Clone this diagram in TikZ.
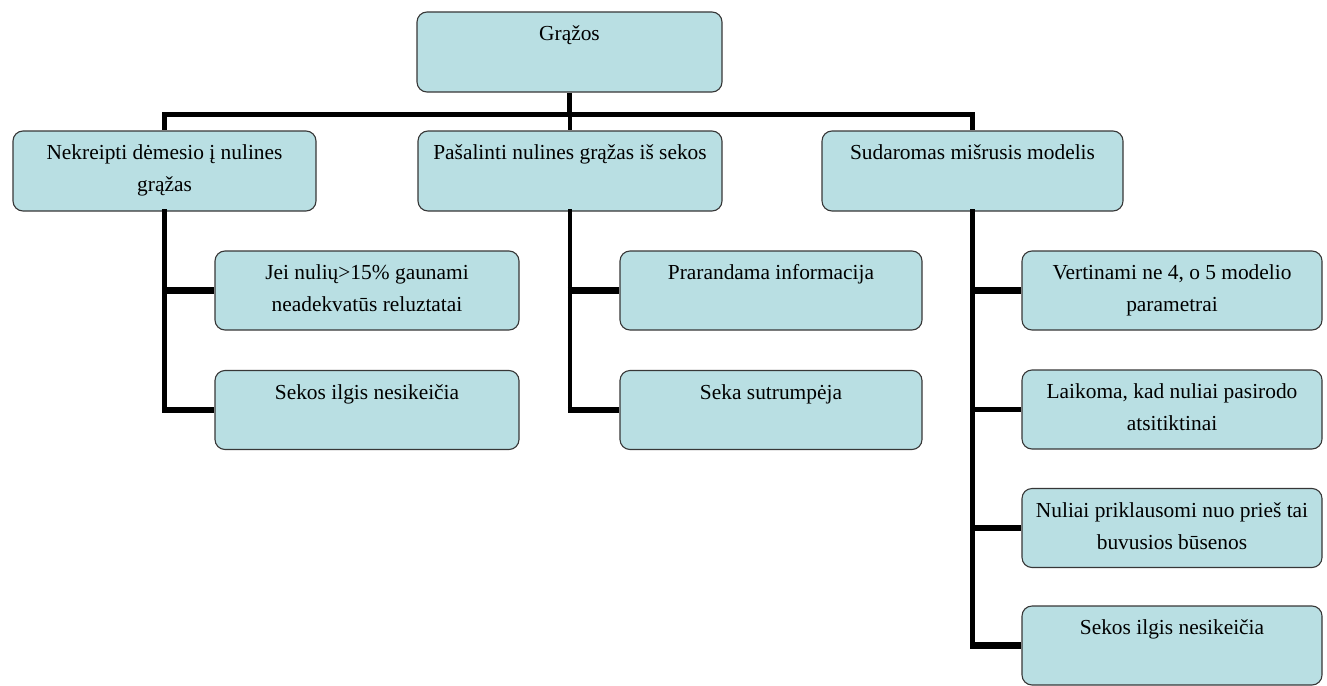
\documentclass[tikz,border=0pt]{standalone}
\usepackage{fontspec}
\setmainfont{Liberation Serif}
\definecolor{boxfill}{RGB}{185,223,227}
\definecolor{boxline}{RGB}{55,55,55}
\tikzset{
  box/.style={draw=boxline, line width=1.1pt, fill=boxfill, rounded corners=10pt, inner sep=0pt, minimum height=79pt},
  lab/.style={anchor=north, inner sep=0pt, align=center, font=\fontsize{21.4}{32}\selectfont},
  trunk/.style={line width=4.5pt, line cap=rect},
  stub/.style={line width=6.5pt},
}
\newcommand{\st}{\rule{0pt}{20pt}}
\begin{document}
\begin{tikzpicture}[x=1pt,y=-1pt]
\useasboundingbox (0,0) rectangle (1327,685);
% boxes
\node[box, minimum width=305pt, minimum height=80pt] (root) at (569.5,52) {};
\node[box, minimum width=303pt, minimum height=80pt] (a) at (164.5,171) {};
\node[box, minimum width=304pt, minimum height=80pt] (b) at (570,171) {};
\node[box, minimum width=301pt, minimum height=80pt] (c) at (972.5,171) {};
\node[box, minimum width=304pt] (a1) at (367,290.5) {};
\node[box, minimum width=304pt] (a2) at (367,410) {};
\node[box, minimum width=302pt] (b1) at (771,290.5) {};
\node[box, minimum width=302pt] (b2) at (771,410) {};
\node[box, minimum width=300pt] (c1) at (1172,290.5) {};
\node[box, minimum width=300pt] (c2) at (1172,409.5) {};
\node[box, minimum width=300pt] (c3) at (1172,528) {};
\node[box, minimum width=300pt] (c4) at (1172,645.5) {};
% labels
\node[lab] (troot) at ([yshift=-9pt]root.north) {\st Grąžos};
\node[lab] (ta) at ([yshift=-9pt]a.north) {\st Nekreipti dėmesio į nulines\\grąžas};
\node[lab] (tb) at ([yshift=-9pt]b.north) {\st Pašalinti nulines grąžas iš sekos};
\node[lab] (tc) at ([yshift=-9pt]c.north) {\st Sudaromas mišrusis modelis};
\node[lab] (ta1) at ([yshift=-9pt]a1.north) {\st Jei nulių>15\% gaunami\\neadekvatūs reluztatai};
\node[lab] (ta2) at ([yshift=-9pt]a2.north) {\st Sekos ilgis nesikeičia};
\node[lab] (tb1) at ([yshift=-9pt]b1.north) {\st Prarandama informacija};
\node[lab] (tb2) at ([yshift=-9pt]b2.north) {\st Seka sutrumpėja};
\node[lab] (tc1) at ([yshift=-9pt]c1.north) {\st Vertinami ne 4, o 5 modelio\\parametrai};
\node[lab] (tc2) at ([yshift=-9pt]c2.north) {\st Laikoma, kad nuliai pasirodo\\atsitiktinai};
\node[lab] (tc3) at ([yshift=-9pt]c3.north) {\st Nuliai priklausomi nuo prieš tai\\buvusios būsenos};
\node[lab] (tc4) at ([yshift=-9pt]c4.north) {\st Sekos ilgis nesikeičia};
% top connectors
\coordinate (bar) at (0,114);
\draw[line width=4.5pt] (root.south) -- (root.south |- bar);
\draw[line width=5pt, line cap=rect] (a.north |- bar) -- (c.north |- bar);
\draw[line width=4.5pt] (a.north |- bar) -- (a.north);
\draw[line width=4.5pt] (b.north |- bar) -- (b.north);
\draw[line width=4.5pt] (c.north |- bar) -- (c.north);
% branch trunks
\draw[trunk] (a.south) -- (a.south |- a2.west);
\draw[trunk] (b.south) -- (b.south |- b2.west);
\draw[trunk] (c.south) -- (c.south |- c4.west);
% stubs
\foreach \p/\k in {a/a1,a/a2,b/b1,b/b2,c/c1,c/c3,c/c4}{
  \draw[stub] ([xshift=-2.25pt]\p.south |- \k.west) -- (\k.west);
}
\draw[line width=5pt] ([xshift=-2.25pt]c.south |- c2.west) -- (c2.west);
\end{tikzpicture}
\end{document}
